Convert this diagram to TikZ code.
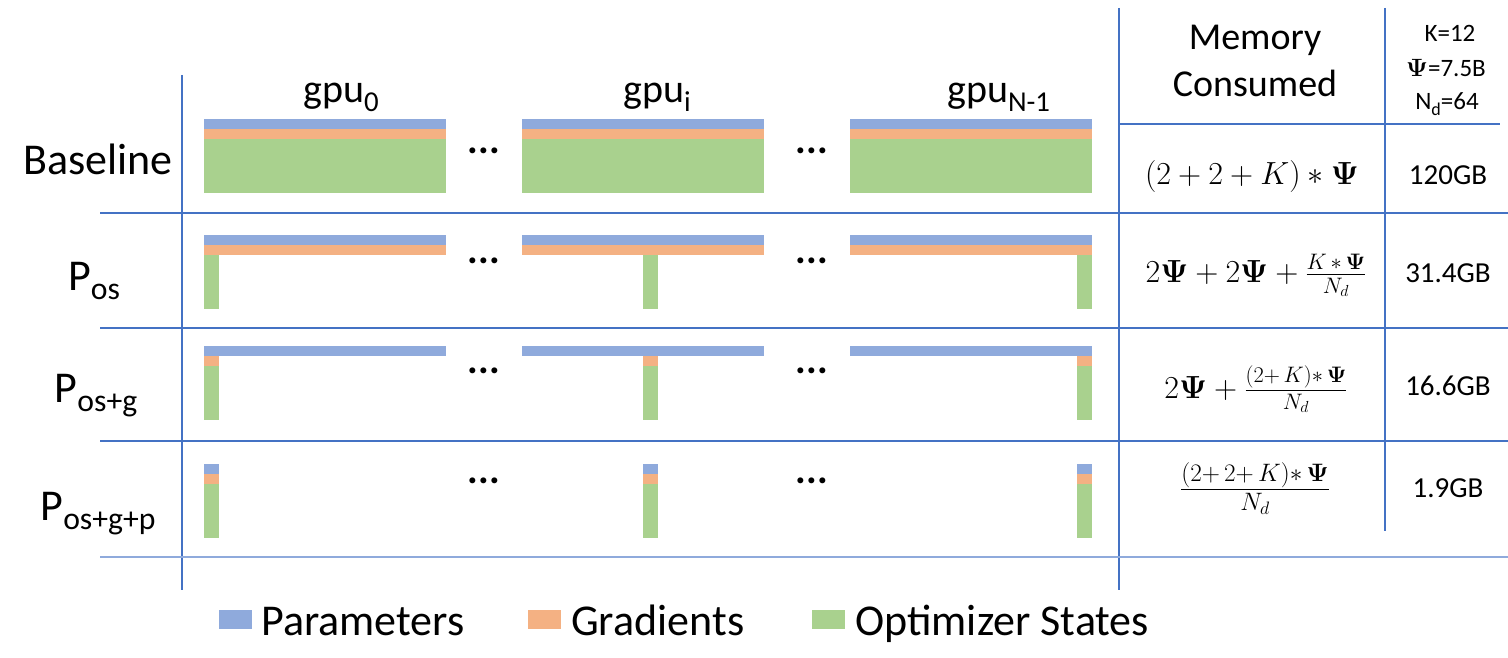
\RequirePackage{fix-cm}
\documentclass[tikz,border=0pt]{standalone}
\usepackage[no-math]{fontspec}
\setmainfont{Carlito}
\usepackage{amsmath,bm,graphicx}
\definecolor{parcol}{HTML}{8FAADC}
\definecolor{gracol}{HTML}{F4B183}
\definecolor{optcol}{HTML}{A9D18E}
\definecolor{gridcol}{HTML}{4472C4}
\newcommand{\setfs}[1]{\fontsize{#1}{#1}\selectfont}
\newcommand{\lsub}[1]{\raisebox{-0.22em}{\scalebox{0.72}{#1}}}

\begin{document}
\begin{tikzpicture}[x=1pt,y=-1pt,
  parbar/.style={fill=parcol},
  grabar/.style={fill=gracol},
  optbar/.style={fill=optcol},
  rule/.style={draw=gridcol,line width=1.3pt},
  lbl/.style={inner sep=0pt,anchor=base,font=\setfs{44}},
  head/.style={inner sep=0pt,anchor=base west,font=\setfs{40}},
  cell/.style={inner sep=0pt,anchor=base,font=\setfs{29}},
  eq/.style={inner sep=0pt,anchor=base,font=\setfs{32}},
  dots/.style={inner sep=0pt,font=\setfs{40}\bfseries},
  key/.style={inner sep=0pt,anchor=base west,font=\setfs{44}}]
\useasboundingbox (0,0) rectangle (1508,658);
\draw[rule] (182,75) -- (182,590);
\draw[rule] (1119,8) -- (1119,590);
\draw[rule] (1385,8) -- (1385,531);
\draw[rule] (1119,124) -- (1500,124);
\foreach \y in {213,328,441} \draw[rule] (100,\y) -- (1508,\y);
\draw[draw=parcol,line width=2.5pt] (100,557) -- (1508,557);
\foreach \x/\c in {204/0,522/121,850/227} {
  \fill[parbar] (\x,119) rectangle ++(242,10);
  \fill[grabar] (\x,129) rectangle ++(242,10);
  \fill[optbar] (\x,139) rectangle ++(242,54);
  \fill[parbar] (\x,235) rectangle ++(242,10);
  \fill[grabar] (\x,245) rectangle ++(242,10);
  \fill[optbar] (\x+\c,255) rectangle ++(15,54);
  \fill[parbar] (\x,346) rectangle ++(242,10);
  \fill[grabar] (\x+\c,356) rectangle ++(15,10);
  \fill[optbar] (\x+\c,366) rectangle ++(15,54);
  \fill[parbar] (\x+\c,464) rectangle ++(15,10);
  \fill[grabar] (\x+\c,474) rectangle ++(15,10);
  \fill[optbar] (\x+\c,484) rectangle ++(15,54);
}
\foreach \y [count=\r] in {151,261,371,481} {
  \node[dots] (dl\r) at (484,\y) {...};
  \node[dots] (dr\r) at (812,\y) {...};
}
\node[head] (gpu0) at (303,103) {gpu\lsub{0}};
\node[head] (gpui) at (623,103) {gpu\lsub{i}};
\node[head] (gpun) at (947,103) {gpu\lsub{N-1}};
\node[lbl] (base) at (98,175) {Baseline};
\node[lbl] (pos) at (94,290) {P\lsub{os}};
\node[lbl] (posg) at (96,402) {P\lsub{os+g}};
\node[lbl] (posgp) at (98,520) {P\lsub{os+g+p}};
\node[lbl,font=\setfs{38}] (mem) at (1255,50) {Memory};
\node[lbl,font=\setfs{38}] (cons) at (1255,97) {Consumed};
\node[cell,font=\setfs{25}] (kval) at (1450,42) {K=12};
\node[cell,font=\setfs{25}] (psival) at (1446,77) {$\bm{\Psi}$=7.5B};
\node[cell,font=\setfs{25}] (ndval) at (1447,110) {N\lsub{d}=64};
\node[eq] (eq1) at (1252,185) {$(2+2+K)\ast\bm{\Psi}$};
\node[eq] (eq2) at (1256,282) {$2\bm{\Psi}+2\bm{\Psi}+\frac{K\,\ast\,\bm{\Psi}}{N_d}$};
\node[eq] (eq3) at (1256,398) {$2\bm{\Psi}+\frac{(2+\,K)\ast\,\bm{\Psi}}{N_d}$};
\node[eq,font=\setfs{36}] (eq4) at (1255,498) {$\frac{(2+\,2+\,K)\ast\,\bm{\Psi}}{N_d}$};
\node[cell] (mem1) at (1448,185) {120GB};
\node[cell] (mem2) at (1448,282) {31.4GB};
\node[cell] (mem3) at (1448,395) {16.6GB};
\node[cell] (mem4) at (1448,497) {1.9GB};
\fill[parbar] (219,610) rectangle (252,629);
\node[key] (kpar) at (261,635) {Parameters};
\fill[grabar] (528,610) rectangle (561,629);
\node[key] (kgra) at (571,635) {Gradients};
\fill[optbar] (812,610) rectangle (845,629);
\node[key] (kopt) at (855,635) {Optimizer States};
\end{tikzpicture}
\end{document}
